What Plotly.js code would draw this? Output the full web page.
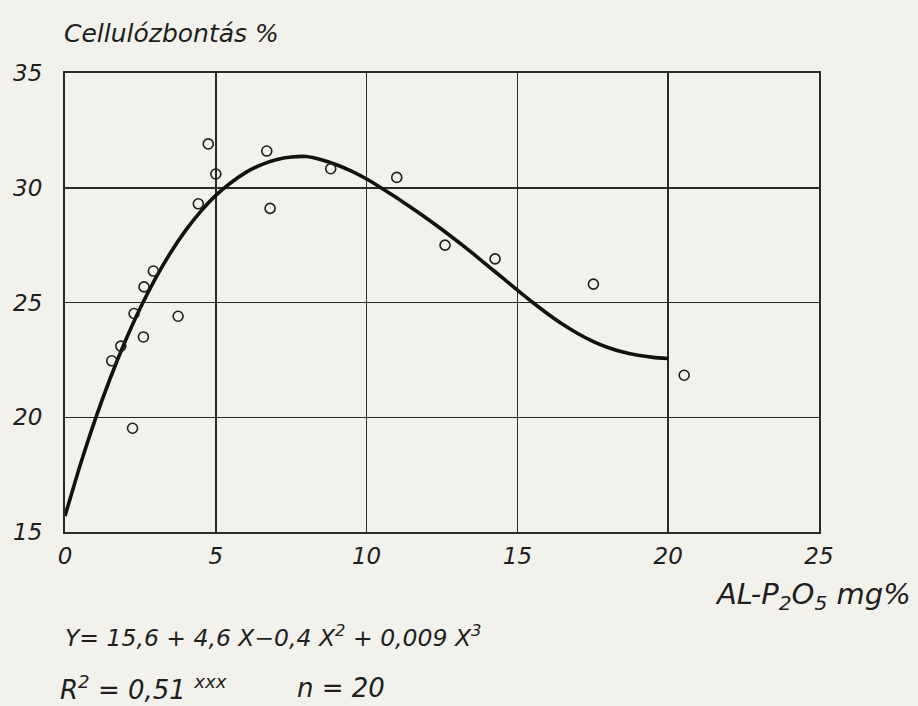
<!DOCTYPE html>
<html>
<head>
<meta charset="utf-8">
<script src="https://cdn.plot.ly/plotly-3.0.1.min.js"></script>
<style>
  html, body { margin: 0; padding: 0; background: #f3f1eb; }
  #chart { width: 918px; height: 706px; }
</style>
</head>
<body>
<div id="chart"></div>
<script>
// Observed data points (AL-P2O5 mg%, Cellulózbontás %)
const pointX = [1.55, 1.85, 2.24, 2.29, 2.60, 2.62, 2.93, 3.75, 4.42, 4.75, 5.00, 6.69, 6.80, 8.81, 11.00, 12.60, 14.26, 17.52, 20.53];
const pointY = [22.46, 23.10, 19.52, 24.52, 23.50, 25.68, 26.37, 24.40, 29.30, 31.91, 30.60, 31.60, 29.10, 30.83, 30.45, 27.50, 26.90, 25.80, 21.83];

// Fitted curve as drawn
const curveX = [0, 0.5, 1.0, 1.5, 2.0, 2.5, 3.0, 3.5, 4.0, 4.5, 5.0, 5.5, 6.0, 6.5, 7.0, 7.5, 8.0, 8.5, 9.0, 9.5, 10.0, 10.5, 11.0, 11.5, 12.0, 12.5, 13.0, 13.5, 14.0, 14.5, 15.0, 15.5, 16.0, 16.5, 17.0, 17.5, 18.0, 18.5, 19.0, 19.5, 20.0];
const curveY = [15.7, 17.9, 19.9, 21.7, 23.32, 24.77, 26.05, 27.17, 28.14, 28.97, 29.67, 30.22, 30.67, 31.0, 31.22, 31.34, 31.36, 31.22, 31.0, 30.72, 30.38, 29.98, 29.56, 29.12, 28.66, 28.18, 27.68, 27.16, 26.62, 26.08, 25.54, 25.01, 24.51, 24.05, 23.65, 23.31, 23.04, 22.84, 22.7, 22.61, 22.56];

const xTicks = [0, 5, 10, 15, 20, 25];
const yTicks = [15, 20, 25, 30, 35];

const yTitle = "Cellulózbontás %";
const xTitle = "AL-P<sub>2</sub>O<sub>5</sub> mg%";
const eqText = "Y= 15,6 + 4,6 X−0,4 X<sup>2</sup> + 0,009 X<sup>3</sup>";
const r2Text = "R<sup>2</sup> = 0,51 <sup>xxx</sup>";
const nText = "n = 20";

const FONT = "DejaVu Sans, Liberation Sans, sans-serif";
const INK = "#1e1e1e";

const traces = [
  {
    x: curveX, y: curveY, type: "scatter", mode: "lines",
    line: { color: "#111", width: 3.6, shape: "spline", smoothing: 0.6 },
    hoverinfo: "skip", showlegend: false
  },
  {
    x: pointX, y: pointY, type: "scatter", mode: "markers",
    marker: { symbol: "circle-open", size: 10, color: INK, line: { width: 1.6, color: INK } },
    showlegend: false
  }
];

const tf = { family: FONT, size: 23, color: INK, style: "italic" };

const layout = {
  width: 918, height: 706,
  paper_bgcolor: "#f3f1eb", plot_bgcolor: "#f3f1eb",
  margin: { l: 65, r: 99, t: 73, b: 174 },
  showlegend: false,
  xaxis: {
    range: [0, 25], tickvals: xTicks, ticktext: xTicks.map(String),
    showgrid: true, gridcolor: "#2a2a2a", gridwidth: 1.5,
    showline: true, mirror: true, linecolor: "#2a2a2a", linewidth: 2,
    zeroline: false, ticks: "", ticklabelstandoff: 2,
    tickfont: tf
  },
  yaxis: {
    range: [15, 35], tickvals: yTicks, ticktext: yTicks.map(String),
    showgrid: true, gridcolor: "#2a2a2a", gridwidth: 1.5,
    showline: true, mirror: true, linecolor: "#2a2a2a", linewidth: 2,
    zeroline: false, ticks: "", ticklabelstandoff: 16,
    tickfont: tf
  },
  annotations: [
    { text: yTitle, xref: "paper", yref: "paper", x: -0.004, y: 1.087, xanchor: "left", yanchor: "middle",
      showarrow: false, font: { family: FONT, size: 25, color: INK, style: "italic" } },
    { text: xTitle, xref: "paper", yref: "paper", x: 1.125, y: -0.14, xanchor: "right", yanchor: "middle",
      showarrow: false, font: { family: FONT, size: 29, color: INK, style: "italic" } },
    { text: eqText, xref: "paper", yref: "paper", x: -0.003, y: -0.228, xanchor: "left", yanchor: "middle",
      showarrow: false, font: { family: FONT, size: 23.5, color: INK, style: "italic" } },
    { text: r2Text, xref: "paper", yref: "paper", x: -0.009, y: -0.34, xanchor: "left", yanchor: "middle",
      showarrow: false, font: { family: FONT, size: 26, color: INK, style: "italic" } },
    { text: nText, xref: "paper", yref: "paper", x: 0.305, y: -0.34, xanchor: "left", yanchor: "middle",
      showarrow: false, font: { family: FONT, size: 26, color: INK, style: "italic" } }
  ]
};

Plotly.newPlot("chart", traces, layout, { displayModeBar: false, staticPlot: true });
</script>
</body>
</html>
